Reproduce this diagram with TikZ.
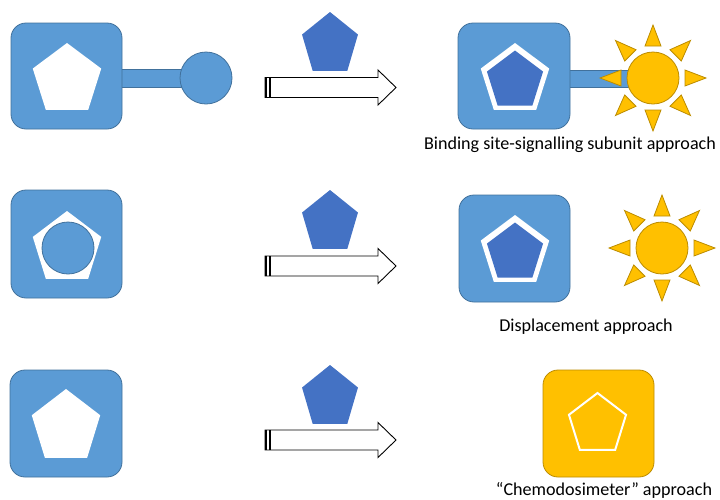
\documentclass[tikz,border=0pt]{standalone}
\usepackage{fontspec}
\setmainfont{Carlito}
\definecolor{boxblue}{HTML}{5B9BD5}
\definecolor{boxedge}{HTML}{41719C}
\definecolor{darkpent}{HTML}{4472C4}
\definecolor{darkedge}{HTML}{2F528F}
\definecolor{sunfill}{HTML}{FFC000}
\definecolor{sunedge}{HTML}{BC8C00}
\newcommand{\pent}[5][]{\path[#1] ({#2},{#3-#5}) -- ({#2-0.9511*#4},{#3-0.309*#5}) -- ({#2-0.5878*#4},{#3+0.809*#5}) -- ({#2+0.5878*#4},{#3+0.809*#5}) -- ({#2+0.9511*#4},{#3-0.309*#5}) -- cycle;}
\newcommand{\sunshape}[2]{%
  \foreach \a in {0,45,...,315}{\path[sunpart, shift={(#1,#2)}, rotate=\a] (32,-8) -- (53,0) -- (32,8) -- cycle;}
  \path[sunpart] (#1,#2) circle[radius=26];}
\newcommand{\fatarrow}[1]{%
  \path[arrowbody] (265,{#1-10}) -- (378,{#1-10}) -- (378,{#1-17.5}) -- (396,#1) -- (378,{#1+17.5}) -- (378,{#1+10}) -- (265,{#1+10}) -- cycle;
  \fill (265,{#1-10}) rectangle (267.3,{#1+10});
  \fill (268.5,{#1-10}) rectangle (270.8,{#1+10});}
\tikzset{
  bluebox/.style={fill=boxblue, draw=boxedge, line width=0.8pt, rounded corners=15pt},
  orangebox/.style={fill=sunfill, draw=sunedge, line width=0.8pt, rounded corners=15pt},
  bluepart/.style={fill=boxblue, draw=boxedge, line width=0.8pt},
  sunpart/.style={fill=sunfill, draw=sunedge, line width=0.8pt},
  whitepent/.style={fill=white},
  darkpentagon/.style={fill=darkpent},
  arrowbody/.style={fill=white, draw=black, line width=0.9pt, line join=miter},
  lbl/.style={anchor=base, inner sep=0pt, font=\fontsize{18.1}{22}\selectfont}
}
\begin{document}
\begin{tikzpicture}[x=1pt,y=-1pt]
\useasboundingbox (0,0) rectangle (720,499);
% ---------- row 1 ----------
\path[bluepart] (118,69) rectangle (183,87);
\path[bluebox] (11,23) rectangle (122,129);
\pent[whitepent]{67}{80}{36}{37}
\path[bluepart] (206,78) circle[radius=26];
\pent[darkpentagon]{330}{44.6}{29.4}{32.6}
\fatarrow{87.5}
\path[bluepart] (566,70) rectangle (630,87);
\path[bluebox] (458,23) rectangle (570,129);
\pent[whitepent]{515}{80}{36}{37}
\pent[darkpentagon]{515}{81}{29.5}{30.5}
\sunshape{653}{78}
\node[lbl] (t1) at (570,149) {Binding site-signalling subunit approach};
% ---------- row 2 ----------
\path[bluebox] (11,190) rectangle (122,298);
\pent[whitepent]{67}{248.5}{36}{37.5}
\path[bluepart] (68,248) circle[radius=26];
\pent[darkpentagon]{330}{222.6}{29.4}{32.6}
\fatarrow{266}
\path[bluebox] (459,195) rectangle (570,302);
\pent[whitepent]{515}{252}{36}{37}
\pent[darkpentagon]{515}{253}{29.5}{30.5}
\sunshape{662}{248}
\node[lbl] (t2) at (586,331) {Displacement approach};
% ---------- row 3 ----------
\path[bluebox] (10,370) rectangle (122,477);
\pent[whitepent]{66}{427}{36}{38}
\pent[darkpentagon]{330}{397.6}{29.4}{32.6}
\fatarrow{440}
\path[orangebox] (543,370) rectangle (654,477);
\pent[draw=white, line width=2pt]{597.5}{424.5}{30}{31.5}
\node[lbl] (t3) at (604,495) {“Chemodosimeter” approach};
\end{tikzpicture}
\end{document}
